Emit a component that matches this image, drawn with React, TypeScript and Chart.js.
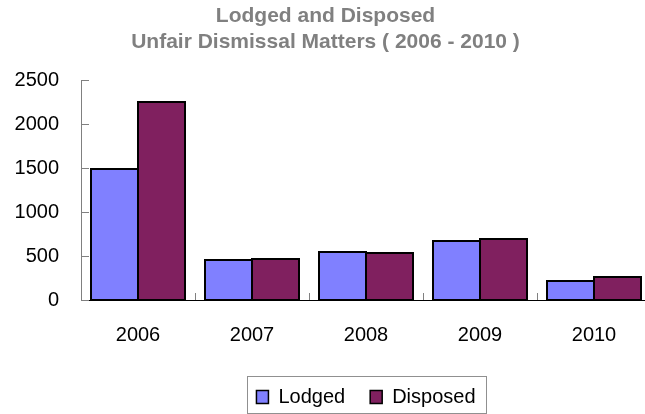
import React, { useEffect, useRef } from 'react';
import { Chart, registerables } from 'chart.js';

Chart.register(...registerables);

const categories = ['2006', '2007', '2008', '2009', '2010'];
const lodged = [1485, 451, 549, 674, 219];
const disposed = [2250, 466, 530, 693, 261];
const yTicks = [0, 500, 1000, 1500, 2000, 2500];
const titleLines = ['Lodged and Disposed', 'Unfair Dismissal Matters ( 2006 - 2010 )'];
const seriesNames = ['Lodged', 'Disposed'];
const seriesColors = ['#8080FF', '#80205F'];

const FONT = "'Liberation Sans', Arial, sans-serif";
const LEGEND_PAD = 25;

const outlinePlugin = {
  id: 'barOutline',
  afterDatasetsDraw(chart: any) {
    const { ctx } = chart;
    ctx.save();
    ctx.strokeStyle = '#000000';
    ctx.lineWidth = 2;
    chart.data.datasets.forEach((_: any, di: number) => {
      const meta = chart.getDatasetMeta(di);
      meta.data.forEach((el: any) => {
        const left = Math.round(el.x - el.width / 2);
        const right = Math.round(el.x + el.width / 2);
        const top = Math.round(el.y);
        const bottom = Math.round(el.base);
        ctx.strokeRect(left, top, right - left, bottom - top);
      });
    });
    ctx.restore();
  },
};

const decorPlugin = {
  id: 'decor',
  afterDraw(chart: any) {
    const { ctx, chartArea, scales } = chart;
    const x = scales.x;
    const y = scales.y;
    ctx.save();
    ctx.strokeStyle = '#808080';
    ctx.lineWidth = 1;
    ctx.beginPath();
    for (const v of yTicks) {
      const py = Math.round(y.getPixelForValue(v)) + 0.5;
      ctx.moveTo(chartArea.left, py);
      ctx.lineTo(chartArea.left + 8, py);
    }
    for (let i = 1; i <= categories.length; i++) {
      const px = Math.round(x.getPixelForValue(i - 0.5)) + 0.5;
      ctx.moveTo(px, chartArea.bottom);
      ctx.lineTo(px, chartArea.bottom - 7);
    }
    ctx.stroke();

    const lg = chart.legend;
    if (lg && lg.lineWidths) {
      const lw = lg.lineWidths[0];
      const startX = (lg.left + LEGEND_PAD + lg.right - lw) / 2;
      const left = Math.round(startX - 9) + 0.5;
      const right = Math.round(startX + lw - LEGEND_PAD + 10) + 0.5;
      const top = Math.round(lg.top + 14) + 0.5;
      const bottom = Math.round(lg.top + 51) + 0.5;
      ctx.strokeStyle = '#909090';
      ctx.strokeRect(left, top, right - left, bottom - top);
    }
    ctx.restore();
  },
};

export default function App() {
  const ref = useRef<HTMLCanvasElement | null>(null);

  useEffect(() => {
    document.body.style.margin = '0';
    const canvas = ref.current;
    if (!canvas) return;
    const chart = new Chart(canvas, {
      type: 'bar',
      data: {
        labels: categories,
        datasets: [
          {
            label: seriesNames[0],
            data: lodged,
            backgroundColor: seriesColors[0],
            borderWidth: 0,
            barPercentage: 1,
            categoryPercentage: 0.816,
          },
          {
            label: seriesNames[1],
            data: disposed,
            backgroundColor: seriesColors[1],
            borderWidth: 0,
            barPercentage: 1,
            categoryPercentage: 0.816,
          },
        ],
      },
      plugins: [outlinePlugin, decorPlugin],
      options: {
        responsive: false,
        animation: false,
        devicePixelRatio: 1,
        layout: { padding: { left: 0, right: 9, top: 0, bottom: -3 } },
        scales: {
          x: {
            offset: true,
            grid: { display: false, drawTicks: false },
            border: { display: true, color: '#000000', width: 1 },
            ticks: {
              padding: 23,
              color: '#000000',
              font: { family: FONT, size: 20 },
              maxRotation: 0,
            },
            afterFit: (s: any) => {
              s.height = 62;
            },
          },
          y: {
            min: 0,
            max: 2500,
            grid: { display: false, drawTicks: false },
            border: { display: true, color: '#808080', width: 1 },
            ticks: {
              stepSize: 500,
              padding: 22,
              color: '#000000',
              font: { family: FONT, size: 20 },
              callback: (v: any) => String(v),
            },
            afterFit: (s: any) => {
              s.width = 81;
            },
          },
        },
        plugins: {
          tooltip: { enabled: false },
          title: {
            display: true,
            text: titleLines,
            color: '#808080',
            font: { family: FONT, size: 21, weight: 'bold', lineHeight: 1.24 },
            padding: { top: 3, bottom: 25 },
          },
          legend: {
            display: true,
            position: 'bottom',
            fullSize: false,
            labels: {
              color: '#000000',
              font: { family: FONT, size: 20 },
              boxWidth: 12,
              boxHeight: 13,
              padding: LEGEND_PAD,
              generateLabels: (ch: any) =>
                ch.data.datasets.map((ds: any, i: number) => ({
                  text: ds.label,
                  fillStyle: ds.backgroundColor,
                  strokeStyle: '#000000',
                  lineWidth: 1.5,
                  hidden: false,
                  datasetIndex: i,
                })),
            },
          },
        },
      },
    } as any);
    return () => chart.destroy();
  }, []);

  return (
    <div style={{ width: 645, height: 414, overflow: 'hidden', position: 'relative' }}>
      <canvas ref={ref} width={660} height={414} style={{ display: 'block' }} />
    </div>
  );
}
